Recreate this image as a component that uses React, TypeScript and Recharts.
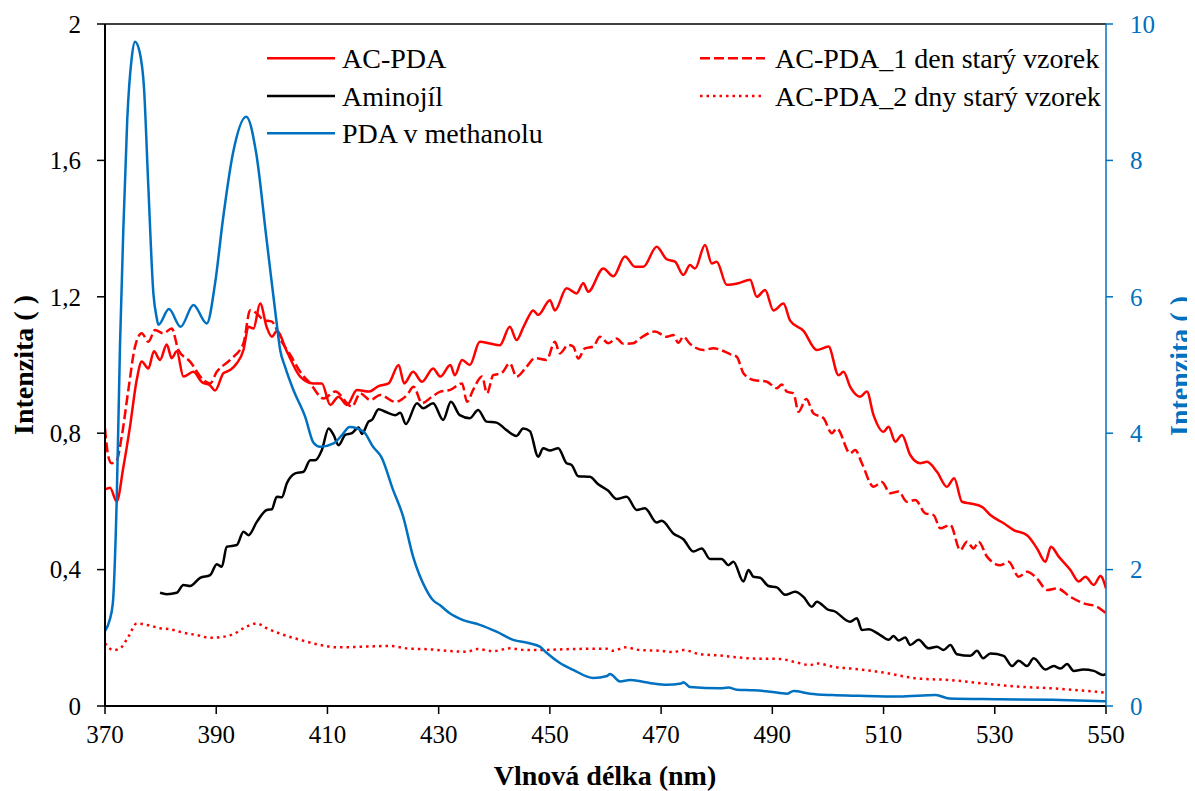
import React from 'react';
import { LineChart, Line, XAxis, YAxis, ReferenceLine } from 'recharts';

// ---- Data ----
const xTicks = [370, 390, 410, 430, 450, 470, 490, 510, 530, 550];
const leftTicks = [0, 0.4, 0.8, 1.2, 1.6, 2];
const rightTicks = [0, 2, 4, 6, 8, 10];

// AC-PDA (left axis)
const acPdaNm = [370.0, 370.9, 372.1, 373.3, 374.5, 375.7, 376.6, 377.8, 378.8, 379.9, 381.1, 382.0, 382.9, 384.1, 385.9, 387.4, 388.9, 389.8, 391.3, 392.5, 393.7, 394.9, 395.8, 396.7, 397.9, 399.1, 400.0, 400.9, 402.7, 405.1, 407.5, 409.0, 410.5, 412.0, 413.5, 415.3, 417.4, 419.2, 421.0, 422.8, 423.8, 425.4, 427.0, 429.0, 430.3, 432.1, 432.9, 434.2, 435.6, 437.4, 439.2, 441.0, 442.8, 444.0, 445.2, 446.1, 447.0, 447.9, 450.0, 450.9, 453.0, 454.8, 456.0, 456.9, 459.6, 461.4, 463.5, 465.3, 466.8, 469.2, 471.0, 472.5, 474.0, 475.2, 476.1, 477.9, 479.1, 480.0, 481.8, 483.9, 486.0, 487.2, 488.7, 490.2, 492.0, 493.2, 495.6, 498.0, 500.1, 501.9, 502.8, 504.0, 505.8, 507.0, 508.2, 510.0, 510.9, 512.1, 513.3, 514.8, 516.6, 517.8, 519.6, 521.4, 522.7, 524.1, 525.6, 527.7, 529.2, 531.6, 533.4, 535.8, 537.6, 539.1, 540.1, 541.5, 543.6, 545.1, 546.3, 547.8, 549.0, 550.0];
const acPdaVal = [0.635, 0.64, 0.6, 0.7, 0.82, 0.956, 1.01, 0.99, 1.04, 1.015, 1.06, 1.02, 1.04, 0.966, 0.98, 0.95, 0.94, 0.925, 0.976, 0.985, 1.005, 1.044, 1.112, 1.107, 1.18, 1.11, 1.083, 1.1, 1.04, 0.966, 0.946, 0.946, 0.883, 0.907, 0.883, 0.927, 0.922, 0.938, 0.946, 1.0, 0.946, 0.98, 0.951, 0.99, 0.966, 1.0, 0.97, 1.015, 1.0, 1.068, 1.063, 1.058, 1.112, 1.073, 1.11, 1.14, 1.16, 1.147, 1.19, 1.16, 1.225, 1.21, 1.24, 1.215, 1.283, 1.26, 1.318, 1.288, 1.288, 1.347, 1.31, 1.303, 1.264, 1.293, 1.283, 1.352, 1.298, 1.303, 1.235, 1.24, 1.25, 1.2, 1.22, 1.16, 1.18, 1.13, 1.1, 1.044, 1.054, 0.97, 0.98, 0.936, 0.907, 0.922, 0.853, 0.804, 0.819, 0.775, 0.795, 0.736, 0.712, 0.716, 0.687, 0.643, 0.668, 0.599, 0.594, 0.584, 0.56, 0.536, 0.516, 0.501, 0.462, 0.423, 0.467, 0.438, 0.399, 0.365, 0.379, 0.355, 0.381, 0.345];

// AC-PDA_1 den starý vzorek (left axis)
const acPda1Nm = [370.0, 370.6, 371.2, 372.1, 373.0, 374.2, 375.4, 376.6, 377.8, 379.0, 380.5, 382.0, 383.2, 385.3, 387.7, 388.9, 390.1, 392.5, 394.9, 396.1, 397.3, 398.5, 400.0, 401.8, 403.3, 405.1, 406.9, 409.3, 411.4, 414.4, 415.9, 417.7, 419.5, 422.2, 424.3, 425.5, 427.0, 428.8, 430.3, 432.1, 434.2, 435.1, 436.2, 437.8, 438.7, 439.8, 441.3, 442.8, 444.0, 445.8, 447.3, 449.4, 450.9, 451.8, 453.3, 454.2, 455.1, 456.3, 457.8, 459.0, 460.5, 462.0, 463.2, 465.0, 466.2, 468.9, 471.0, 472.2, 473.1, 474.0, 475.2, 477.6, 479.4, 482.4, 483.6, 484.8, 486.6, 489.0, 490.8, 491.7, 492.6, 493.8, 494.7, 496.1, 497.4, 499.2, 500.7, 501.6, 504.0, 504.9, 506.1, 508.2, 509.7, 511.2, 512.7, 514.2, 515.7, 517.5, 519.0, 520.2, 522.0, 523.8, 525.0, 526.2, 527.1, 528.6, 531.0, 532.5, 534.3, 535.8, 537.6, 539.4, 541.2, 543.6, 546.0, 548.4, 550.0];
const acPda1Val = [0.814, 0.731, 0.712, 0.72, 0.79, 0.927, 1.054, 1.093, 1.068, 1.103, 1.093, 1.107, 1.044, 1.01, 0.956, 0.946, 0.98, 1.015, 1.064, 1.161, 1.151, 1.132, 1.127, 1.068, 1.03, 0.98, 0.946, 0.902, 0.922, 0.878, 0.917, 0.897, 0.912, 0.892, 0.912, 0.936, 0.888, 0.907, 0.922, 0.927, 0.946, 0.892, 0.927, 0.966, 0.917, 0.97, 0.976, 1.005, 0.966, 0.995, 1.02, 1.015, 1.068, 1.034, 1.059, 1.054, 1.019, 1.049, 1.054, 1.083, 1.064, 1.078, 1.062, 1.064, 1.078, 1.098, 1.083, 1.088, 1.065, 1.083, 1.062, 1.044, 1.049, 1.032, 1.024, 0.976, 0.956, 0.951, 0.932, 0.943, 0.922, 0.917, 0.863, 0.9, 0.858, 0.844, 0.8, 0.814, 0.741, 0.751, 0.712, 0.643, 0.657, 0.624, 0.629, 0.599, 0.604, 0.565, 0.56, 0.521, 0.531, 0.457, 0.482, 0.462, 0.482, 0.438, 0.413, 0.423, 0.379, 0.394, 0.374, 0.34, 0.345, 0.32, 0.301, 0.291, 0.272];

// AC-PDA_2 dny starý vzorek (left axis)
const acPda2Nm = [370.0, 371.5, 372.7, 374.2, 375.7, 377.8, 379.9, 381.7, 384.1, 386.5, 388.9, 391.3, 393.1, 395.5, 397.3, 399.1, 401.5, 405.1, 408.7, 411.7, 416.5, 421.3, 424.3, 428.5, 432.1, 435.1, 436.9, 439.8, 442.8, 445.8, 448.2, 453.6, 460.2, 461.4, 463.5, 466.2, 469.8, 472.2, 474.0, 477.0, 480.6, 483.6, 486.6, 491.4, 493.8, 496.8, 498.0, 501.0, 504.0, 510.0, 516.0, 522.0, 528.0, 534.0, 540.0, 546.0, 550.0];
const acPda2Val = [0.184, 0.164, 0.169, 0.203, 0.242, 0.237, 0.228, 0.225, 0.215, 0.208, 0.2, 0.203, 0.211, 0.233, 0.242, 0.228, 0.212, 0.194, 0.179, 0.172, 0.174, 0.176, 0.169, 0.166, 0.161, 0.159, 0.167, 0.161, 0.169, 0.164, 0.164, 0.167, 0.168, 0.162, 0.172, 0.164, 0.162, 0.158, 0.164, 0.152, 0.148, 0.143, 0.139, 0.138, 0.13, 0.12, 0.125, 0.115, 0.11, 0.098, 0.081, 0.076, 0.066, 0.057, 0.052, 0.045, 0.039];

// Aminojíl (left axis)
const aminoNm = [379.9, 381.1, 382.9, 384.1, 385.3, 387.1, 388.9, 390.1, 391.0, 391.9, 393.7, 394.9, 395.8, 397.3, 399.1, 400.0, 400.9, 401.8, 402.7, 404.2, 405.7, 406.9, 407.8, 409.0, 410.2, 411.1, 412.0, 413.2, 414.4, 415.6, 416.2, 417.4, 418.0, 419.2, 420.4, 422.2, 423.1, 424.1, 426.1, 427.2, 429.0, 430.8, 432.2, 433.8, 435.6, 437.1, 438.6, 440.4, 442.2, 444.0, 445.2, 446.4, 447.9, 448.8, 450.0, 451.5, 453.0, 453.9, 455.1, 457.2, 458.7, 460.5, 462.0, 463.8, 465.6, 467.1, 469.2, 470.1, 472.2, 474.0, 475.8, 477.3, 478.8, 480.9, 482.1, 483.0, 484.8, 485.7, 486.6, 487.8, 489.3, 490.8, 492.3, 494.1, 495.6, 497.1, 498.0, 500.1, 501.0, 504.0, 505.2, 506.1, 507.3, 509.4, 510.9, 511.8, 512.7, 513.9, 514.8, 516.3, 518.1, 519.6, 520.8, 522.0, 523.2, 525.6, 526.8, 527.9, 529.2, 531.6, 533.1, 534.3, 535.8, 537.0, 539.1, 540.6, 541.8, 543.0, 544.2, 545.9, 547.8, 549.5, 550.0];
const aminoVal = [0.332, 0.328, 0.332, 0.355, 0.352, 0.376, 0.384, 0.416, 0.408, 0.467, 0.472, 0.511, 0.501, 0.54, 0.575, 0.577, 0.614, 0.612, 0.653, 0.682, 0.687, 0.721, 0.721, 0.751, 0.814, 0.795, 0.765, 0.795, 0.8, 0.817, 0.798, 0.834, 0.839, 0.87, 0.863, 0.853, 0.86, 0.827, 0.888, 0.873, 0.888, 0.839, 0.892, 0.853, 0.844, 0.868, 0.834, 0.831, 0.809, 0.792, 0.814, 0.806, 0.731, 0.756, 0.749, 0.756, 0.712, 0.707, 0.674, 0.672, 0.65, 0.631, 0.607, 0.614, 0.575, 0.58, 0.538, 0.543, 0.506, 0.489, 0.453, 0.462, 0.431, 0.431, 0.413, 0.423, 0.365, 0.399, 0.379, 0.376, 0.352, 0.348, 0.326, 0.335, 0.32, 0.291, 0.306, 0.282, 0.279, 0.247, 0.257, 0.223, 0.225, 0.208, 0.194, 0.205, 0.192, 0.201, 0.179, 0.194, 0.169, 0.174, 0.164, 0.179, 0.152, 0.147, 0.162, 0.14, 0.154, 0.147, 0.117, 0.133, 0.117, 0.14, 0.107, 0.117, 0.11, 0.123, 0.103, 0.107, 0.103, 0.091, 0.094];

// PDA v methanolu (right axis)
const pdaNm = [370.0, 370.8, 371.4, 372.1, 372.7, 373.3, 374.0, 374.8, 375.4, 376.2, 377.0, 377.8, 378.7, 379.3, 379.6, 381.5, 383.6, 385.9, 388.3, 389.8, 391.2, 393.0, 395.4, 397.2, 399.0, 400.8, 401.5, 402.4, 403.9, 406.0, 407.5, 408.7, 411.1, 412.6, 414.0, 416.5, 418.2, 419.7, 421.8, 423.6, 425.4, 427.8, 429.0, 430.2, 432.0, 434.4, 437.4, 440.4, 443.4, 446.3, 448.2, 449.4, 451.8, 454.2, 457.8, 460.3, 460.8, 462.6, 464.4, 466.5, 468.6, 471.0, 473.6, 474.0, 475.2, 480.6, 482.1, 483.6, 486.6, 489.6, 492.6, 493.8, 496.8, 500.8, 505.6, 512.8, 519.4, 521.8, 530.8, 540.3, 550.0];
const pdaVal = [1.1, 1.25, 1.5, 3.0, 5.3, 7.0, 8.6, 9.5, 9.74, 9.6, 9.08, 7.6, 6.05, 5.69, 5.59, 5.82, 5.56, 5.88, 5.61, 6.2, 7.13, 8.1, 8.64, 8.1, 6.88, 5.66, 5.22, 4.97, 4.63, 4.24, 3.86, 3.8, 3.85, 3.97, 4.09, 4.02, 3.8, 3.65, 3.17, 2.78, 2.19, 1.7, 1.55, 1.48, 1.36, 1.26, 1.19, 1.09, 0.97, 0.92, 0.87, 0.78, 0.63, 0.53, 0.41, 0.44, 0.47, 0.36, 0.38, 0.36, 0.33, 0.31, 0.33, 0.35, 0.28, 0.26, 0.27, 0.24, 0.23, 0.21, 0.18, 0.22, 0.18, 0.16, 0.15, 0.14, 0.16, 0.11, 0.1, 0.09, 0.07];

const RED = '#FF0000';
const BLACK = '#000000';
const BLUE = '#0070C0';
const FONT = '"Liberation Serif", "Times New Roman", serif';

const zip = (xs: number[], ys: number[]) => xs.map((x, i) => ({ x, y: ys[i] }));

const acPdaData = zip(acPdaNm, acPdaVal);
const acPda1Data = zip(acPda1Nm, acPda1Val);
const acPda2Data = zip(acPda2Nm, acPda2Val);
const aminoData = zip(aminoNm, aminoVal);
const pdaData = zip(pdaNm, pdaVal);

const legendLeft = [
  { name: 'AC-PDA', color: RED, dash: undefined as string | undefined },
  { name: 'Aminojíl', color: BLACK, dash: undefined as string | undefined },
  { name: 'PDA v methanolu', color: BLUE, dash: undefined as string | undefined },
];
const legendRight = [
  { name: 'AC-PDA_1 den starý vzorek', color: RED, dash: '10 4' },
  { name: 'AC-PDA_2 dny starý vzorek', color: RED, dash: '2.5 4' },
];

const W = 1187;
const H = 783;

const fmtLeft = (v: number) => String(v).replace('.', ',');

export default function App() {
  const rowsY = [50.3, 88, 125.3];
  return (
    <div style={{ position: 'relative', width: W, height: H, fontFamily: FONT }}>
      <LineChart width={W} height={H} margin={{ top: 16, right: 9, left: 17, bottom: 35 }}>
        <XAxis
          type="number"
          dataKey="x"
          domain={[370, 550]}
          ticks={xTicks}
          allowDataOverflow
          height={50}
          axisLine={{ stroke: BLACK, strokeWidth: 2 }}
          tickLine={{ stroke: BLACK, strokeWidth: 1.5 }}
          tickSize={8}
          tickMargin={11}
          tick={{ fill: BLACK, fontSize: 25, fontFamily: FONT }}
        />
        <YAxis
          yAxisId="left"
          orientation="left"
          type="number"
          domain={[0, 2]}
          ticks={leftTicks}
          allowDataOverflow
          width={80}
          axisLine={{ stroke: BLACK, strokeWidth: 2 }}
          tickLine={{ stroke: BLACK, strokeWidth: 1.5 }}
          tickSize={8}
          tickMargin={16}
          tickFormatter={fmtLeft}
          tick={{ fill: BLACK, fontSize: 25, fontFamily: FONT }}
        />
        <YAxis
          yAxisId="right"
          orientation="right"
          type="number"
          domain={[0, 10]}
          ticks={rightTicks}
          allowDataOverflow
          width={80}
          axisLine={{ stroke: BLUE, strokeWidth: 1.5 }}
          tickLine={{ stroke: BLUE, strokeWidth: 1.5 }}
          tickSize={7}
          tickMargin={17}
          tick={{ fill: BLUE, fontSize: 25, fontFamily: FONT }}
        />
        <ReferenceLine yAxisId="left" y={2} stroke={BLACK} strokeWidth={1.5} />
        <Line yAxisId="left" data={acPda2Data} dataKey="y" type="monotone" stroke={RED} strokeWidth={2.5} strokeDasharray="2.5 4" dot={false} activeDot={false} isAnimationActive={false} />
        <Line yAxisId="left" data={acPda1Data} dataKey="y" type="monotone" stroke={RED} strokeWidth={2.5} strokeDasharray="10 4" dot={false} activeDot={false} isAnimationActive={false} />
        <Line yAxisId="left" data={aminoData} dataKey="y" type="monotone" stroke={BLACK} strokeWidth={2.5} dot={false} activeDot={false} isAnimationActive={false} />
        <Line yAxisId="left" data={acPdaData} dataKey="y" type="monotone" stroke={RED} strokeWidth={2.5} dot={false} activeDot={false} isAnimationActive={false} />
        <Line yAxisId="right" data={pdaData} dataKey="y" type="monotone" stroke={BLUE} strokeWidth={2.5} dot={false} activeDot={false} isAnimationActive={false} />
      </LineChart>
      <svg width={W} height={H} style={{ position: 'absolute', left: 0, top: 0, pointerEvents: 'none', overflow: 'visible' }}>
        {legendLeft.map((it, i) => (
          <g key={it.name}>
            <line x1={259} x2={327} y1={rowsY[i]} y2={rowsY[i]} stroke={it.color} strokeWidth={2.5} strokeDasharray={it.dash} />
            <text x={334} y={rowsY[i] + 10} fontSize={28} fontFamily={FONT} fill={BLACK}>{it.name}</text>
          </g>
        ))}
        {legendRight.map((it, i) => (
          <g key={it.name}>
            <line x1={692} x2={757} y1={rowsY[i]} y2={rowsY[i]} stroke={it.color} strokeWidth={2.5} strokeDasharray={it.dash} />
            <text x={767} y={rowsY[i] + 10} fontSize={28} fontFamily={FONT} fill={BLACK}>{it.name}</text>
          </g>
        ))}
        <text transform="translate(24.5,357) rotate(-90)" textAnchor="middle" fontSize={28} fontWeight="bold" fontFamily={FONT} fill={BLACK}>Intenzita ( )</text>
        <text transform="translate(1181,358) rotate(-90)" textAnchor="middle" fontSize={28} fontWeight="bold" fontFamily={FONT} fill={BLUE}>Intenzita ( )</text>
        <text x={597} y={777} textAnchor="middle" fontSize={28} fontWeight="bold" fontFamily={FONT} fill={BLACK}>Vlnová délka (nm)</text>
      </svg>
    </div>
  );
}
